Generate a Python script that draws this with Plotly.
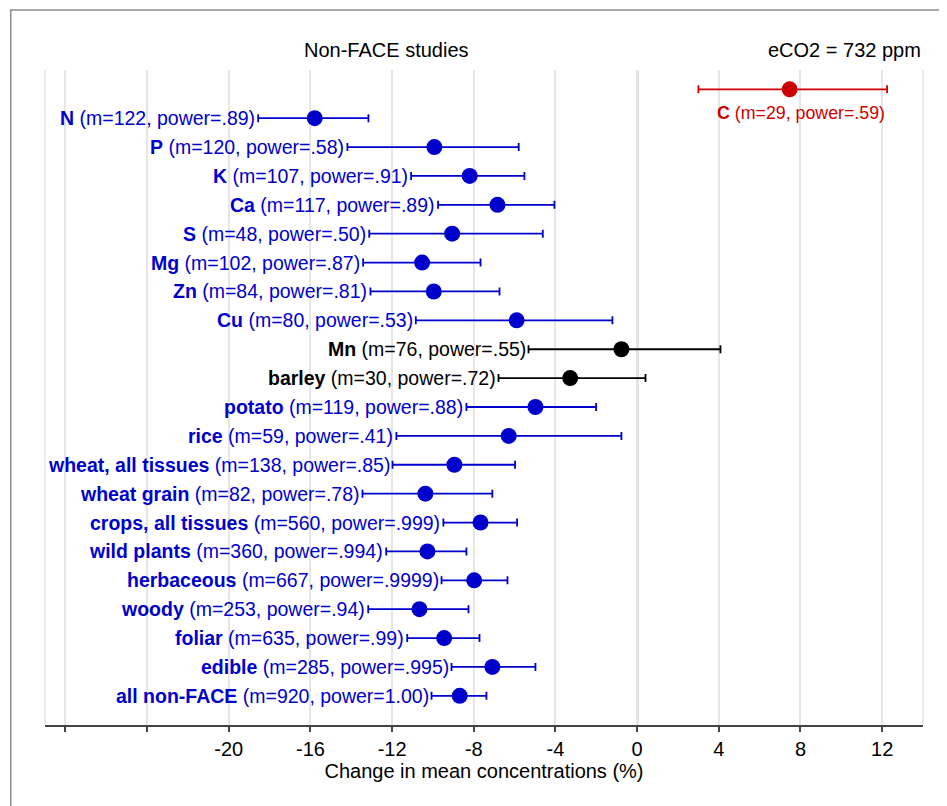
import plotly.graph_objects as go

names = ["C", "N", "P", "K", "Ca", "S", "Mg", "Zn", "Cu", "Mn", "barley", "potato", "rice",
         "wheat, all tissues", "wheat grain", "crops, all tissues", "wild plants", "herbaceous",
         "woody", "foliar", "edible", "all non-FACE"]
m_values = [29, 122, 120, 107, 117, 48, 102, 84, 80, 76, 30, 119, 59, 138, 82, 560, 360, 667,
            253, 635, 285, 920]
power = [".59", ".89", ".58", ".91", ".89", ".50", ".87", ".81", ".53", ".55", ".72", ".88", ".41",
         ".85", ".78", ".999", ".994", ".9999", ".94", ".99", ".995", "1.00"]
mean = [7.47, -15.79, -9.93, -8.20, -6.84, -9.06, -10.53, -9.96, -5.90, -0.77, -3.28, -4.98, -6.29,
        -8.95, -10.37, -7.67, -10.27, -7.98, -10.66, -9.45, -7.09, -8.69]
lower = [3.00, -18.56, -14.19, -11.07, -9.75, -13.12, -13.42, -13.06, -10.84, -5.32, -6.79, -8.36,
         -11.79, -11.98, -13.45, -9.49, -12.29, -9.58, -13.17, -11.26, -9.09, -10.07]
upper = [12.24, -13.16, -5.80, -5.52, -4.05, -4.62, -7.67, -6.74, -1.21, 4.08, 0.41, -2.01, -0.77,
         -5.98, -7.09, -5.88, -8.36, -6.35, -8.26, -7.72, -4.98, -7.38]
groups = ["red", "blue", "blue", "blue", "blue", "blue", "blue", "blue", "blue", "black", "black",
          "blue", "blue", "blue", "blue", "blue", "blue", "blue", "blue", "blue", "blue", "blue"]

tick_vals = [-28, -24, -20, -16, -12, -8, -4, 0, 4, 8, 12]
tick_text = ["", "", "-20", "-16", "-12", "-8", "-4", "0", "4", "8", "12"]
x_range = [-29, 14]

colors = {"blue": "#0000CC", "black": "#000000", "red": "#CC0000"}
FONT = "Liberation Sans, Arial, Helvetica, sans-serif"
LABEL_SIZE = 19.5
TEXT_SIZE = 20

fig = go.Figure()
for g in ["blue", "black", "red"]:
    idx = [i for i, gg in enumerate(groups) if gg == g]
    fig.add_trace(go.Scatter(
        x=[mean[i] for i in idx],
        y=[i for i in idx],
        mode="markers",
        marker=dict(size=16, color=colors[g]),
        error_x=dict(type="data", symmetric=False,
                     array=[upper[i] - mean[i] for i in idx],
                     arrayminus=[mean[i] - lower[i] for i in idx],
                     color=colors[g], thickness=1.8, width=4),
        showlegend=False, hoverinfo="skip",
    ))

annotations = []
for i, n in enumerate(names):
    txt = f"<b>{n}</b> (m={m_values[i]}, power={power[i]})"
    if groups[i] == "red":
        annotations.append(dict(x=mean[i], y=i, xref="x", yref="y", text=txt, showarrow=False,
                                xanchor="center", yanchor="middle", xshift=11, yshift=-24,
                                font=dict(family=FONT, size=17.8, color=colors[groups[i]])))
    else:
        annotations.append(dict(x=lower[i], y=i, xref="x", yref="y", text=txt, showarrow=False,
                                xanchor="right", yanchor="middle", xshift=-1,
                                font=dict(family=FONT, size=LABEL_SIZE, color=colors[groups[i]])))

annotations.append(dict(x=0.389, y=1.0305, xref="paper", yref="paper", text="Non-FACE studies",
                        showarrow=False, xanchor="center", yanchor="middle",
                        font=dict(family=FONT, size=TEXT_SIZE, color="black")))
annotations.append(dict(x=1.0, y=1.0305, xref="paper", yref="paper", text="eCO2 = 732 ppm",
                        showarrow=False, xanchor="right", yanchor="middle",
                        font=dict(family=FONT, size=TEXT_SIZE, color="black")))

shapes = [
    dict(type="line", xref="x", yref="paper", x0=0, x1=0, y0=0, y1=1,
         line=dict(color="#222222", width=2), layer="below"),
    dict(type="line", xref="paper", yref="paper", x0=0, x1=0, y0=0, y1=1,
         line=dict(color="#e6e6e6", width=1.5), layer="below"),
    dict(type="line", xref="paper", yref="paper", x0=1, x1=1, y0=0, y1=1,
         line=dict(color="#e6e6e6", width=1.5), layer="below"),
    dict(type="rect", xref="paper", yref="paper", x0=-0.039, x1=1.2, y0=-0.3, y1=1.0916,
         line=dict(color="#8c8c8c", width=1.5), layer="below"),
]

fig.update_layout(
    width=939, height=798,
    margin=dict(l=37, r=24, t=62, b=81),
    paper_bgcolor="white", plot_bgcolor="white",
    font=dict(family=FONT, size=TEXT_SIZE, color="black"),
    annotations=annotations, shapes=shapes,
    xaxis=dict(range=x_range, tickvals=tick_vals, ticktext=tick_text,
               showgrid=True, gridcolor="#e6e6e6", gridwidth=1.5, zeroline=False,
               showline=True, linecolor="#444444", linewidth=1.5,
               ticks="outside", ticklen=5, tickwidth=1.5, tickcolor="#444444",
               tickfont=dict(family=FONT, size=TEXT_SIZE, color="black"),
               title=dict(text="Change in mean concentrations (%)", standoff=2,
                          font=dict(family=FONT, size=TEXT_SIZE, color="black"))),
    yaxis=dict(range=[22.01, -0.668], showgrid=False, zeroline=False, showticklabels=False,
               showline=False, ticks=""),
)

fig.write_html("out.html")
